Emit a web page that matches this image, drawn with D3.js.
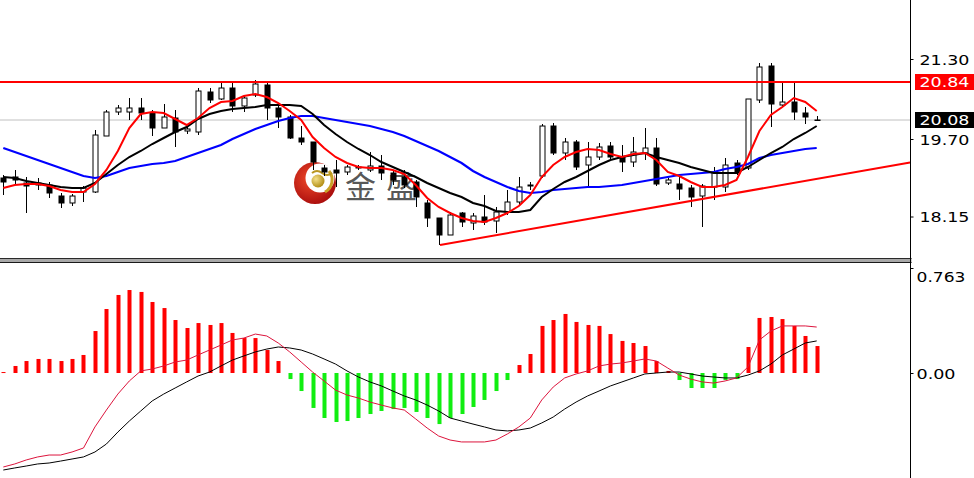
<!DOCTYPE html>
<html><head><meta charset="utf-8">
<script src="https://cdn.jsdelivr.net/npm/d3@7/dist/d3.min.js"></script>
<style>html,body{margin:0;padding:0;background:#fff;overflow:hidden}</style>
</head><body>
<svg id="c" width="974" height="478"></svg>
<script>
// ---------- DATA ----------
const opens  = [18.92,18.94,18.82,18.82,18.78,18.56,18.42,18.64,18.64,19.76,20.24,20.24,20.32,20.22,19.92,20.12,19.86,19.84,20.64,20.50,20.72,20.36,20.58,20.78,20.32,20.14,19.72,19.64,19.12,19.08,19.04,19.12,19.08,19.16,19.02,18.94,18.84,18.42,18.12,17.78,18.22,18.02,18.14,18.06,18.24,18.44,18.76,18.96,19.96,19.42,19.64,19.18,19.34,19.56,19.34,19.24,19.42,19.52,18.82,18.80,18.72,18.56,18.74,18.74,19.22,19.12,20.48,21.16,20.38,20.44,20.22,20.08];
const highs  = [18.98,19.08,18.94,18.92,18.84,18.62,18.60,18.76,19.88,20.28,20.38,20.52,20.52,20.28,20.40,20.28,19.94,20.72,20.72,20.84,20.84,20.58,20.88,20.84,20.36,20.18,19.96,19.64,19.18,19.28,19.18,19.18,19.44,19.38,19.08,19.08,18.88,18.48,18.12,18.24,18.24,18.22,18.58,18.34,18.68,18.94,18.84,20.00,20.02,19.72,19.68,19.64,19.62,19.64,19.58,19.74,19.92,19.72,18.92,18.98,18.78,18.80,19.14,19.32,19.28,20.50,21.22,21.22,20.84,20.84,20.34,20.16];
const lows   = [18.58,18.78,18.22,18.68,18.52,18.32,18.36,18.44,18.62,19.76,20.18,20.08,20.08,19.76,19.92,19.54,19.80,19.78,20.42,20.48,20.24,20.24,20.54,20.08,19.92,19.70,19.58,19.08,18.96,18.74,18.98,19.08,19.04,18.88,18.78,18.72,18.34,17.94,17.58,17.78,17.94,17.88,17.98,17.82,18.18,18.38,18.68,18.92,19.38,19.28,19.08,18.76,19.28,19.28,19.04,19.14,19.28,18.76,18.78,18.48,18.34,17.94,18.48,18.64,18.98,19.08,20.42,19.94,20.36,20.08,20.00,20.08];
const closes = [18.84,18.88,18.76,18.78,18.62,18.42,18.56,18.72,19.78,20.24,20.32,20.32,20.22,19.92,20.14,19.84,19.90,20.66,20.48,20.72,20.36,20.52,20.80,20.32,20.14,19.72,19.64,19.24,19.04,19.02,19.14,19.14,19.16,19.02,18.88,18.78,18.54,18.12,17.78,18.18,18.04,18.16,18.04,18.24,18.44,18.74,18.78,19.96,19.42,19.64,19.14,19.34,19.54,19.34,19.24,19.44,19.52,18.80,18.88,18.70,18.54,18.76,19.04,19.18,19.02,20.50,21.14,20.40,20.44,20.24,20.14,20.08];

const maFast = [18.72,18.78,18.80,18.80,18.76,18.68,18.64,18.64,18.80,19.08,19.46,19.92,20.20,20.24,20.22,20.10,19.98,20.12,20.32,20.44,20.46,20.56,20.60,20.54,20.42,20.26,20.08,19.74,19.52,19.34,19.22,19.14,19.12,19.12,19.08,19.00,18.78,18.52,18.34,18.22,18.12,18.06,18.04,18.12,18.22,18.36,18.58,18.94,19.18,19.34,19.44,19.50,19.48,19.40,19.34,19.40,19.42,19.28,19.04,18.96,18.84,18.74,18.74,18.78,18.88,19.34,19.86,20.18,20.34,20.52,20.44,20.26];
const maMid  = [18.94,18.92,18.86,18.82,18.78,18.74,18.72,18.72,18.82,19.00,19.18,19.34,19.46,19.60,19.72,19.84,19.94,20.10,20.20,20.26,20.30,20.32,20.34,20.38,20.38,20.38,20.36,20.20,19.98,19.80,19.64,19.50,19.38,19.24,19.14,19.04,18.94,18.82,18.72,18.62,18.54,18.42,18.36,18.26,18.24,18.24,18.28,18.54,18.70,18.84,18.94,19.06,19.18,19.28,19.34,19.38,19.42,19.34,19.28,19.22,19.14,19.08,19.02,19.02,19.02,19.14,19.28,19.42,19.54,19.70,19.82,19.96];
const maSlow = [19.52,19.44,19.36,19.28,19.20,19.12,19.04,18.96,18.92,18.96,19.04,19.12,19.16,19.20,19.22,19.26,19.34,19.42,19.50,19.58,19.70,19.80,19.90,19.98,20.06,20.12,20.16,20.16,20.12,20.08,20.04,20.00,19.96,19.90,19.84,19.76,19.66,19.56,19.46,19.34,19.22,19.06,18.94,18.84,18.74,18.66,18.62,18.64,18.68,18.70,18.72,18.74,18.74,18.76,18.78,18.82,18.86,18.90,18.94,18.98,19.00,19.02,19.04,19.10,19.14,19.20,19.32,19.38,19.42,19.46,19.50,19.52];

const macdHist = [0.007,0.051,0.087,0.102,0.102,0.087,0.102,0.131,0.305,0.465,0.567,0.603,0.589,0.516,0.472,0.385,0.327,0.363,0.349,0.363,0.291,0.254,0.254,0.167,0.087,-0.044,-0.131,-0.254,-0.327,-0.356,-0.349,-0.327,-0.298,-0.276,-0.262,-0.254,-0.283,-0.327,-0.371,-0.327,-0.298,-0.247,-0.196,-0.131,-0.051,0.058,0.138,0.342,0.385,0.429,0.371,0.349,0.342,0.283,0.233,0.218,0.196,0.087,0.015,-0.051,-0.109,-0.109,-0.109,-0.051,-0.044,0.189,0.400,0.407,0.392,0.342,0.269,0.196];
const macdMain = [-0.705,-0.690,-0.676,-0.661,-0.654,-0.640,-0.625,-0.610,-0.574,-0.516,-0.429,-0.349,-0.276,-0.203,-0.153,-0.109,-0.065,-0.022,0.007,0.051,0.094,0.124,0.153,0.174,0.189,0.182,0.167,0.138,0.102,0.065,0.015,-0.029,-0.065,-0.094,-0.131,-0.167,-0.196,-0.233,-0.276,-0.327,-0.349,-0.371,-0.392,-0.414,-0.421,-0.414,-0.400,-0.363,-0.320,-0.262,-0.211,-0.167,-0.131,-0.094,-0.065,-0.036,-0.007,0.000,0.007,0.007,-0.007,-0.022,-0.029,-0.036,-0.036,-0.015,0.015,0.065,0.131,0.174,0.218,0.233];
const macdSignal = [-0.683,-0.661,-0.632,-0.610,-0.596,-0.596,-0.574,-0.545,-0.392,-0.269,-0.153,-0.058,0.015,0.029,0.051,0.080,0.094,0.131,0.167,0.203,0.240,0.254,0.283,0.269,0.218,0.153,0.080,0.007,-0.058,-0.124,-0.160,-0.182,-0.211,-0.233,-0.254,-0.269,-0.334,-0.400,-0.458,-0.487,-0.501,-0.501,-0.501,-0.487,-0.443,-0.392,-0.327,-0.196,-0.102,-0.036,-0.007,0.015,0.051,0.065,0.073,0.087,0.102,0.087,0.036,-0.015,-0.044,-0.065,-0.073,-0.058,-0.036,0.044,0.240,0.305,0.342,0.342,0.342,0.334];

const priceTicks = [21.30, 19.70, 18.15];
const priceTickLabels = ["21.30", "19.70", "18.15"];
const markerPrices = [20.84, 20.08];
const markerLabels = ["20.84", "20.08"];
const resistance = 20.84;
const trendIdx = [38.12, 79.15];
const trendPrice = [17.58, 19.23];
const macdTicks = [0.763, 0];
const macdTickLabels = ["0.763", "0.00"];
const watermark = ["金", "盛"];

// ---------- LAYOUT ----------
const svg = d3.select('#c');
const axisX = 910.5;
const n = closes.length;
const x = d3.scaleLinear().domain([0, n - 1]).range([3.3, 816.7]);
const y = d3.scaleLinear().domain([17.28, 22.48]).range([260, 0]);
const ym = d3.scaleLinear().domain([-0.763, 0.763]).range([478, 268]);
const FONT = "'DejaVu Sans', Verdana, sans-serif";

const defs = svg.append('defs');
defs.append('clipPath').attr('id','mainClip').append('rect').attr('x',0).attr('y',0).attr('width',axisX).attr('height',258);
defs.append('clipPath').attr('id','subClip').append('rect').attr('x',0).attr('y',263).attr('width',axisX).attr('height',215);
const rg = defs.append('radialGradient').attr('id','logoRed').attr('cx','40%').attr('cy','40%').attr('r','65%');
rg.append('stop').attr('offset','0%').attr('stop-color','#f04a2a');
rg.append('stop').attr('offset','100%').attr('stop-color','#a80c0c');
const gg = defs.append('radialGradient').attr('id','logoGold').attr('cx','35%').attr('cy','35%').attr('r','70%');
gg.append('stop').attr('offset','0%').attr('stop-color','#f4e08a');
gg.append('stop').attr('offset','100%').attr('stop-color','#b08a10');

const main = svg.append('g').attr('clip-path','url(#mainClip)');

// grey current price line
main.append('line').attr('x1',0).attr('x2',axisX).attr('y1',y(markerPrices[1])).attr('y2',y(markerPrices[1]))
  .attr('stroke','#c0c0c0').attr('stroke-width',1);

// watermark logo
const logo = main.append('g');
const lcx = 315, lcy = 183;
logo.append('circle').attr('cx',lcx).attr('cy',lcy).attr('r',21).attr('fill','url(#logoRed)');
logo.append('circle').attr('cx',lcx+5).attr('cy',lcy-5).attr('r',14.5).attr('fill','#fff');
logo.append('path').attr('d',`M${lcx+14},${lcy-12} A14,14 0 0 1 ${lcx+10},${lcy+9}`).attr('fill','none').attr('stroke','#c9a227').attr('stroke-width',3);
logo.append('path').attr('d',`M${lcx-3},${lcy-10} q5,-4 10,0 q5,4 10,0`).attr('fill','none').attr('stroke','#b89520').attr('stroke-width',2);
logo.append('circle').attr('cx',lcx+3).attr('cy',lcy-2).attr('r',6.5).attr('fill','url(#logoGold)');
logo.selectAll('text.wm').data(watermark).enter().append('text').attr('class','wm')
  .attr('x',(d,i)=>345 + i*41).attr('y',198)
  .attr('font-family',"'Noto Sans CJK SC', sans-serif").attr('font-size',31)
  .attr('fill','#3a3a3a').attr('fill-opacity',0.85).text(d=>d);

// candles
const cg = main.append('g');
const idx = d3.range(n);
cg.selectAll('line.wick').data(idx).enter().append('line')
  .attr('x1',i=>Math.round(x(i))+0.5).attr('x2',i=>Math.round(x(i))+0.5)
  .attr('y1',i=>y(highs[i])).attr('y2',i=>y(lows[i]))
  .attr('stroke','#000').attr('stroke-width',1);
cg.selectAll('rect.body').data(idx).enter().append('rect')
  .attr('x',i=>Math.round(x(i))-2)
  .attr('width',5)
  .attr('y',i=>y(Math.max(opens[i],closes[i])))
  .attr('height',i=>Math.max(0.5, Math.abs(y(opens[i])-y(closes[i]))))
  .attr('fill',i=>closes[i]>=opens[i] ? '#fff' : '#000')
  .attr('stroke','#000').attr('stroke-width',1);

// moving averages
const line = d3.line().x((d,i)=>x(i)).y(d=>y(d));
main.append('path').datum(maSlow).attr('d',line).attr('fill','none').attr('stroke','#0000ff').attr('stroke-width',2.2);
main.append('path').datum(maMid).attr('d',line).attr('fill','none').attr('stroke','#000').attr('stroke-width',2);
main.append('path').datum(maFast).attr('d',line).attr('fill','none').attr('stroke','#ff0000').attr('stroke-width',2);

// resistance + trend lines
main.append('line').attr('x1',0).attr('x2',axisX).attr('y1',y(resistance)).attr('y2',y(resistance))
  .attr('stroke','#ff0000').attr('stroke-width',2);
main.append('line').attr('x1',x(trendIdx[0])).attr('x2',x(trendIdx[1]))
  .attr('y1',y(trendPrice[0])).attr('y2',y(trendPrice[1]))
  .attr('stroke','#ff0000').attr('stroke-width',2);

// ---------- MACD ----------
const sub = svg.append('g').attr('clip-path','url(#subClip)');
sub.selectAll('rect.h').data(idx).enter().append('rect')
  .attr('x',i=>Math.round(x(i))-1.5).attr('width',4)
  .attr('y',i=>Math.min(ym(0),ym(macdHist[i])))
  .attr('height',i=>Math.max(1,Math.abs(ym(macdHist[i])-ym(0))))
  .attr('fill',i=>macdHist[i]>=0 ? '#ff0000' : '#11ee11');
const mline = d3.line().x((d,i)=>x(i)).y(d=>ym(d));
sub.append('path').datum(macdMain).attr('d',mline).attr('fill','none').attr('stroke','#000').attr('stroke-width',1);
sub.append('path').datum(macdSignal).attr('d',mline).attr('fill','none').attr('stroke','#dc143c').attr('stroke-width',1);

// ---------- separators & axes ----------
svg.append('rect').attr('x',0).attr('y',258).attr('width',axisX+1).attr('height',5).attr('fill','#a8a8a8');
svg.append('line').attr('x1',0).attr('x2',axisX+1).attr('y1',258.5).attr('y2',258.5).attr('stroke','#2a2a2a');
svg.append('line').attr('x1',0).attr('x2',axisX+1).attr('y1',262.5).attr('y2',262.5).attr('stroke','#1a1a1a');
svg.append('line').attr('x1',axisX).attr('x2',axisX).attr('y1',0).attr('y2',478).attr('stroke','#000').attr('stroke-width',1);

const pAxis = d3.axisRight(y).tickValues(priceTicks).tickSize(3).tickPadding(6)
  .tickFormat((d,i)=>priceTickLabels[i]);
const pa = svg.append('g').attr('transform',`translate(${axisX},0)`).call(pAxis);
pa.select('.domain').remove();
pa.selectAll('text').attr('font-family',FONT).attr('font-size',14).attr('fill','#000')
  .attr('dy','0.38em').attr('textLength',50).attr('lengthAdjust','spacingAndGlyphs');

const mAxis = d3.axisRight(ym).tickValues(macdTicks).tickSize(3).tickPadding(3)
  .tickFormat((d,i)=>macdTickLabels[i]);
const ma = svg.append('g').attr('transform',`translate(${axisX},0)`).call(mAxis);
ma.select('.domain').remove();
ma.selectAll('text').attr('font-family',FONT).attr('font-size',14).attr('fill','#000')
  .attr('dy',(d,i)=> i===0 ? '0.95em' : '0.4em')
  .attr('textLength',(d,i)=> i===0 ? 49 : 39).attr('lengthAdjust','spacingAndGlyphs');

// price markers
const markerFill = ['#ff0000', '#000000'];
const mk = svg.selectAll('g.mk').data(markerPrices).enter().append('g').attr('class','mk');
mk.append('rect').attr('x',915).attr('width',59).attr('y',d=>y(d)-8).attr('height',16)
  .attr('fill',(d,i)=>markerFill[i]);
mk.append('text').attr('x',919.5).attr('y',d=>y(d)).attr('dy','0.38em')
  .attr('font-family',FONT).attr('font-size',14).attr('fill','#fff')
  .attr('textLength',50).attr('lengthAdjust','spacingAndGlyphs')
  .text((d,i)=>markerLabels[i]);
</script>
</body></html>
